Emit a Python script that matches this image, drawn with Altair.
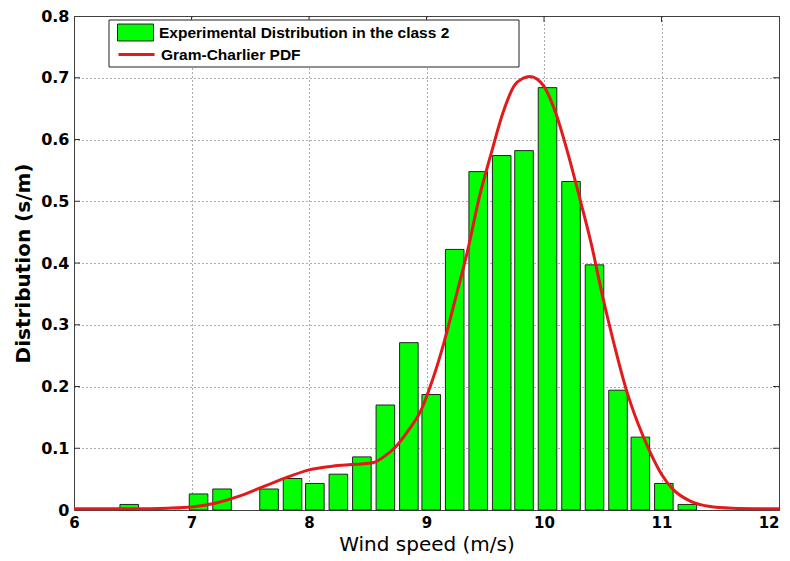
import altair as alt
import pandas as pd

# ---- data ----
bin_centers = [6.47, 7.06, 7.26, 7.66, 7.86, 8.05, 8.25, 8.45, 8.65, 8.85, 9.04,
               9.24, 9.44, 9.64, 9.83, 10.03, 10.23, 10.43, 10.63, 10.82, 11.02, 11.22]
bin_heights = [0.009, 0.026, 0.034, 0.034, 0.051, 0.043, 0.058, 0.086, 0.170, 0.271, 0.187,
               0.422, 0.548, 0.574, 0.582, 0.684, 0.532, 0.397, 0.194, 0.118, 0.043, 0.009]
bar_width = 0.158  # drawn width of each bar (wind-speed units)

curve_x = [6.0, 6.5, 6.8, 7.0, 7.2, 7.4, 7.6, 7.8, 8.0, 8.2, 8.4, 8.55, 8.65, 8.75, 8.85,
           8.95, 9.05, 9.15, 9.25, 9.35, 9.45, 9.55, 9.65, 9.75, 9.82, 9.88, 9.94, 10.0,
           10.1, 10.2, 10.3, 10.4, 10.5, 10.6, 10.7, 10.8, 10.9, 11.0, 11.1, 11.25, 11.4,
           11.6, 12.0]
curve_y = [0.002, 0.002, 0.003, 0.005, 0.011, 0.022, 0.037, 0.052, 0.065, 0.071, 0.074,
           0.077, 0.088, 0.105, 0.130, 0.160, 0.210, 0.272, 0.345, 0.420, 0.507, 0.577,
           0.643, 0.688, 0.699, 0.702, 0.698, 0.686, 0.643, 0.580, 0.508, 0.433, 0.345,
           0.266, 0.195, 0.140, 0.095, 0.058, 0.033, 0.014, 0.006, 0.003, 0.002]

x_ticks = [6, 7, 8, 9, 10, 11, 12]
y_ticks = [0, 0.1, 0.2, 0.3, 0.4, 0.5, 0.6, 0.7, 0.8]

bar_label = "Experimental Distribution in the class 2"
curve_label = "Gram-Charlier PDF"

W, H = 705, 494

bars_df = pd.DataFrame({"c": bin_centers, "h": bin_heights})
bars_df["x0"] = bars_df["c"] - bar_width / 2
bars_df["x1"] = bars_df["c"] + bar_width / 2
bars_df["base"] = 0.0
bars_df["series"] = bar_label
curve_df = pd.DataFrame({"x": curve_x, "y": curve_y, "curve": curve_label})
xt_df = pd.DataFrame({"xt": x_ticks[1:-1]})
yt_df = pd.DataFrame({"yt": y_ticks[1:-1]})

xscale = alt.Scale(domain=[6, 12], nice=False, zero=False)
yscale = alt.Scale(domain=[0, 0.8], nice=False)

FONT = "DejaVu Sans"

x_axis = alt.Axis(values=x_ticks, format="d", title="Wind speed (m/s)", grid=True,
                  gridDash=[1, 3], gridColor="#333", gridOpacity=0.8, ticks=False, domain=False,
                  labelFont=FONT, labelFontSize=15, labelFontWeight="bold", labelColor="black",
                  labelPadding=5, labelFlush=False,
                  labelAlign=alt.ConditionalAxisLabelAlign(
                      condition={"test": "datum.value == 12", "value": "right"}, value="center"),
                  titleFont=FONT, titleFontSize=20,
                  titleFontWeight="normal", titleColor="black", titlePadding=4)
y_axis = alt.Axis(values=y_ticks, format=".1~f", title="Distribution (s/m)", grid=True,
                  gridDash=[1, 3], gridColor="#333", gridOpacity=0.8, ticks=False, domain=False,
                  labelFont=FONT, labelFontSize=16, labelFontWeight="bold", labelColor="black",
                  labelPadding=5, labelFlush=False, titleFont=FONT, titleFontSize=20,
                  titleFontWeight="bold", titleColor="black", titlePadding=7)

LEG_FONT = "Liberation Sans"

bars = alt.Chart(bars_df).mark_bar(stroke="#222", strokeWidth=1).encode(
    x=alt.X("x0:Q", scale=xscale, axis=x_axis),
    x2="x1:Q",
    y=alt.Y("h:Q", scale=yscale, axis=y_axis),
    y2="base:Q",
    fill=alt.Fill("series:N", scale=alt.Scale(domain=[bar_label], range=["#00FF00"]),
                  legend=alt.Legend(orient="none", legendX=43, legendY=-2, title=None,
                                    symbolType="M-1,-0.47H1V0.47H-1Z", symbolSize=1296,
                                    symbolStrokeColor="#222", symbolStrokeWidth=1,
                                    symbolOpacity=1, labelFont=LEG_FONT, labelFontSize=15.5,
                                    labelFontWeight="bold", labelColor="black",
                                    labelLimit=500, labelOffset=5, padding=0)),
)

line = alt.Chart(curve_df).mark_line(strokeWidth=3, interpolate="monotone").encode(
    x=alt.X("x:Q", scale=xscale),
    y=alt.Y("y:Q", scale=yscale),
    stroke=alt.Stroke("curve:N", scale=alt.Scale(domain=[curve_label], range=["#E31A1C"]),
                      legend=alt.Legend(orient="none", legendX=43, legendY=19, title=None,
                                        symbolType="stroke", symbolSize=1296,
                                        symbolStrokeWidth=3, labelFont=LEG_FONT,
                                        labelFontSize=15.5, labelFontWeight="bold",
                                        labelColor="black", labelLimit=500, labelOffset=5,
                                        padding=0)),
)

legend_box = alt.Chart(alt.Data(values=[{}])).mark_rect(
    fill="white", stroke="#222", strokeWidth=1
).encode(x=alt.value(35), x2=alt.value(445), y=alt.value(4), y2=alt.value(51))

tick_len = 6
xt_bottom = alt.Chart(xt_df).mark_rule(color="#333").encode(
    x=alt.X("xt:Q", scale=xscale), y=alt.value(H - tick_len), y2=alt.value(H))
xt_top = alt.Chart(xt_df).mark_rule(color="#333").encode(
    x=alt.X("xt:Q", scale=xscale), y=alt.value(0), y2=alt.value(tick_len))
yt_left = alt.Chart(yt_df).mark_rule(color="#333").encode(
    y=alt.Y("yt:Q", scale=yscale), x=alt.value(0), x2=alt.value(tick_len))
yt_right = alt.Chart(yt_df).mark_rule(color="#333").encode(
    y=alt.Y("yt:Q", scale=yscale), x=alt.value(W - tick_len), x2=alt.value(W))

chart = alt.layer(xt_bottom, xt_top, yt_left, yt_right, bars, line, legend_box).properties(
    width=W, height=H,
    autosize=alt.AutoSizeParams(type="none"),
    padding={"left": 66, "top": 8, "right": 3, "bottom": 51},
    background="white",
).configure_view(stroke="#444", strokeWidth=1)

chart.save("out.html", embed_options={"renderer": "svg", "actions": False})
